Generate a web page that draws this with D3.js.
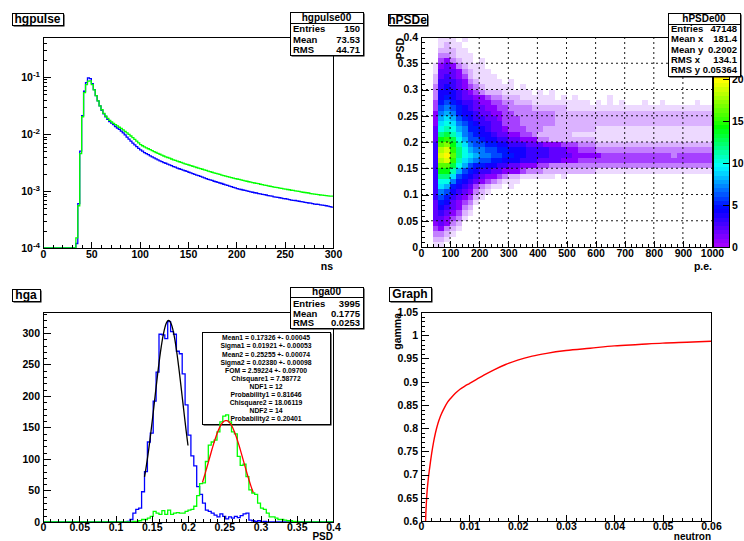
<!DOCTYPE html>
<html><head><meta charset="utf-8">
<script src="https://cdn.jsdelivr.net/npm/d3@7"></script>
<style>
body{margin:0;background:#fff;}
svg{display:block;}
</style></head><body>
<script>
// ---------------- data ----------------
// hgpulse: 150 bins of 2 ns, 0-300 ns
const pulseBinWidth = 2;
const pulseBlue = [0,0,0,0,0,0,0,0,0,0,0,0,0,0,0,0,0,
 1.2e-4,6.0e-4,5.0e-3,2.1e-2,5.6e-2,7.9e-2,9.6e-2,9.3e-2,7.6e-2,6.0e-2,4.7e-2,3.8e-2,3.1e-2,
 2.6e-2,2.25e-2,2.0e-2,1.8e-2,1.65e-2,1.54e-2,1.45e-2,1.35e-2,1.27e-2,1.2e-2,
 1.12e-2,1.04e-2,9.6e-3,8.8e-3,8.1e-3,7.5e-3,6.9e-3,6.4e-3,6.0e-3,5.6e-3,
 5.25e-3,5.0e-3,4.7e-3,4.5e-3,4.32e-3,4.12e-3,3.96e-3,3.8e-3,3.64e-3,3.5e-3,
 3.38e-3,3.26e-3,3.14e-3,3.06e-3,2.95e-3,2.86e-3,2.77e-3,2.67e-3,2.61e-3,2.52e-3,
 2.45e-3,2.39e-3,2.31e-3,2.26e-3,2.2e-3,2.13e-3,2.08e-3,2.01e-3,1.96e-3,1.9e-3,
 1.85e-3,1.8e-3,1.75e-3,1.69e-3,1.65e-3,1.6e-3,1.56e-3,1.53e-3,1.48e-3,1.45e-3,
 1.41e-3,1.38e-3,1.35e-3,1.31e-3,1.28e-3,1.25e-3,1.22e-3,1.19e-3,1.16e-3,1.13e-3,
 1.1e-3,1.08e-3,1.06e-3,1.04e-3,1.02e-3,1.0e-3,9.8e-4,9.6e-4,9.5e-4,9.3e-4,
 9.2e-4,9.0e-4,8.9e-4,8.7e-4,8.6e-4,8.5e-4,8.3e-4,8.2e-4,8.1e-4,7.9e-4,
 7.8e-4,7.7e-4,7.6e-4,7.5e-4,7.35e-4,7.3e-4,7.2e-4,7.05e-4,6.9e-4,6.85e-4,
 6.8e-4,6.7e-4,6.6e-4,6.5e-4,6.45e-4,6.3e-4,6.25e-4,6.15e-4,6.1e-4,6.0e-4,
 5.9e-4,5.85e-4,5.8e-4,5.7e-4,5.65e-4,5.6e-4,5.5e-4,5.4e-4,5.3e-4,5.2e-4];
const pulseGreen = [0,0,0,0,0,0,0,0,0,0,0,0,0,0,0,0,0,
 1.5e-4,5.5e-4,4.5e-3,2.0e-2,5.3e-2,7.3e-2,8.4e-2,8.5e-2,7.3e-2,5.9e-2,4.7e-2,3.8e-2,3.1e-2,
 2.65e-2,2.3e-2,2.06e-2,1.87e-2,1.73e-2,1.62e-2,1.53e-2,1.45e-2,1.38e-2,1.31e-2,
 1.25e-2,1.18e-2,1.11e-2,1.04e-2,9.8e-3,9.2e-3,8.6e-3,8.0e-3,7.45e-3,6.95e-3,
 6.5e-3,6.2e-3,5.95e-3,5.7e-3,5.5e-3,5.3e-3,5.1e-3,4.9e-3,4.72e-3,4.55e-3,
 4.4e-3,4.25e-3,4.1e-3,3.97e-3,3.86e-3,3.75e-3,3.63e-3,3.52e-3,3.43e-3,3.33e-3,
 3.25e-3,3.16e-3,3.08e-3,2.99e-3,2.92e-3,2.85e-3,2.78e-3,2.71e-3,2.65e-3,2.58e-3,
 2.52e-3,2.46e-3,2.4e-3,2.34e-3,2.29e-3,2.23e-3,2.18e-3,2.13e-3,2.08e-3,2.03e-3,
 1.99e-3,1.95e-3,1.9e-3,1.86e-3,1.82e-3,1.78e-3,1.75e-3,1.71e-3,1.68e-3,1.65e-3,
 1.62e-3,1.59e-3,1.56e-3,1.53e-3,1.5e-3,1.48e-3,1.45e-3,1.43e-3,1.4e-3,1.38e-3,
 1.36e-3,1.34e-3,1.31e-3,1.29e-3,1.27e-3,1.25e-3,1.23e-3,1.21e-3,1.19e-3,1.17e-3,
 1.16e-3,1.14e-3,1.12e-3,1.11e-3,1.09e-3,1.08e-3,1.06e-3,1.05e-3,1.03e-3,1.02e-3,
 1.0e-3,9.9e-4,9.8e-4,9.6e-4,9.5e-4,9.4e-4,9.3e-4,9.2e-4,9.0e-4,8.9e-4,
 8.8e-4,8.7e-4,8.6e-4,8.5e-4,8.45e-4,8.4e-4,8.3e-4,8.2e-4,8.15e-4,8.1e-4];

// hPSDe: mean bin content on a 20 p.e. x 0.01 grid, top row (0.39-0.40) first
const psdeXStep = 20, psdeYStep = 0.01, psdeZMax = 25;
const psdeCodes = {".":0,"a":0.15,"b":0.3,"c":0.5,"d":0.75};
const psdeRows = [
 ["...aaa.a..","..........","..........","..........",".........."],
 ["...abaa...","..........","..........","..........",".........."],
 ["...bbbaa..","..........","..........","..........",".........."],
 ["...ccbaaa.","..........","..........","..........",".........."],
 ["...d1cbaa.","a.........","..........","..........",".........."],
 ["..a121cbaa","a.........","..........","..........",".........."],
 ["..a2221cba","aa........","..........","..........",".........."],
 ["..b2321dba","aaa.......","..........","..........",".........."],
 ["..b33321cb","aaaa.a....","..........","..........",".........."],
 ["..c34321dc","baaaaa.a..","..........","..........",".........."],
 ["..c444321d","cbbbaaaaa.","a.a.......","..........",".........."],
 ["..c4543221","1dccbbbaaa","aaa.a.a...","..a.......",".........."],
 ["..d5654332","11ddccbbba","aaaaaaaaa.","a.a.a...a.",".a.....a.."],
 ["..d6765432","211ddccccb","bbbbbaaaaa","aaaaaaaaaa","aaaaaaaaaa"],
 ["..17875443","2211ddcccc","cccbbbbbbb","bbbbbbbbbb","bbbbbbbbbb"],
 ["..18986543","3221dddccc","cccbbbbbbb","bbbbbbbbbb","bbbbbbbbbb"],
 ["..19A97654","3322dddccc","cccbbbbbbb","bbbbbbbbbb","bbbbbbbbbb"],
 ["..2ABA8755","43221dddcc","cbbbbbbbbb","aaaaaaaaaa","aaaaaaaaaa"],
 ["..2CDB9765","4432211ddc","bbbbbbaaaa","aaaaaaaaaa","aaaaaaaaaa"],
 ["..2EFDA866","5443322111","ccbbbbbbbb","aaaaaaaaaa","aaaaaaaaaa"],
 ["..3GHEB976","6554433322","2111dddccc","bbbbbbbbbb","bbbbbbbbbb"],
 ["..3IJFCA87","7665544433","3322211ddd","cccccccccc","cccccccccc"],
 ["..3JKGCA98","7766554433","3322221111","1ddddddddd","dddcdddddd"],
 ["..3IJFB987","6655444333","2222111ddd","dddddddddd","dddddddddd"],
 ["..3GGDA865","5443322111","ddcccccccc","cccccccccc","cccccccccc"],
 ["..3EEB8654","3322111dcc","cbbbbbbbbb","aaaaaaaaaa","aaaaaaaaaa"],
 ["..3CC96543","211dcbbaaa","aaa.a.....","..........",".........."],
 ["..3AA75432","1dcbaaa...","..........","..........",".........."],
 ["..3985432d","cbaa.a....","..........","..........",".........."],
 ["..3764321c","ba........","..........","..........",".........."],
 ["..365321db","a.........","..........","..........",".........."],
 ["..25421dca","..........","..........","..........",".........."],
 ["..24321cb.","..........","..........","..........",".........."],
 ["..2321dba.","..........","..........","..........",".........."],
 ["..221dca..","..........","..........","..........",".........."],
 ["..121cb...","..........","..........","..........",".........."],
 ["..d1cba...","..........","..........","..........",".........."],
 ["..ccba....","..........","..........","..........",".........."],
 ["..bba.....","..........","..........","..........",".........."],
 ["..aa......","..........","..........","..........",".........."]
];

// hga: 100 bins of 0.004, 0-0.4
const hgaBinWidth = 0.004;
const hgaBlue = [0,0,0,0,0,0,0,0,0,0,0,0,0,0,0,0,0,0,0,0,0,0,0,0,0,0,0,0,0,
 1,4,14,20,22,48,80,127,141,192,238,298,297,291,318,302,298,271,267,235,186,
 138,105,89,56,44,30,19,17,14,11,8,13,9,5,8,6,9,7,10,13,14,3,2,1,2,0,1,
 0,0,0,0,0,0,0,0,0,0,0,0,0,0,0,0,0,0,0,0,0,0,0];
const hgaGreen = [0,0,0,0,0,0,0,0,0,0,0,0,0,0,0,0,0,0,0,0,0,0,0,0,0,0,0,0,0,0,0,
 1,1,2,4,4,6,9,17,14,12,18,12,19,12,14,15,14,14,17,19,20,25,42,61,62,96,122,127,130,
 143,159,168,170,159,143,140,104,90,92,72,51,46,44,30,22,20,14,8,8,6,4,4,3,2,2,1,1,
 0,0,0,0,0,0,0,0,0,0,0,0];
// gaussian fits (mean, sigma from the fit results; amplitude and range of each fit)
const fitGamma   = {mean:0.17326, sigma:0.01921, amp:320, lo:0.14, hi:0.20};
const fitNeutron = {mean:0.25255, sigma:0.02380, amp:161, lo:0.22, hi:0.29};
const fitLines = ["Mean1 = 0.17326 +- 0.00045","Sigma1 = 0.01921 +- 0.00053",
 "Mean2 = 0.25255 +- 0.00074","Sigma2 = 0.02380 +- 0.00098","FOM = 2.59224 +- 0.09700",
 "Chisquare1 = 7.58772","NDF1 = 12","Probability1 = 0.81646","Chisquare2 = 18.06119",
 "NDF2 = 14","Probability2 = 0.20401"];

// Graph: gamma efficiency vs neutron fraction
const graphNeutron = [0.0009,0.0010,0.0012,0.0015,0.0018,0.0022,0.0026,0.0030,0.0035,0.0040,0.0047,
 0.0055,0.0063,0.0071,0.0080,0.0090,0.0100,0.0115,0.0130,0.0150,0.0175,0.0200,0.0230,0.0260,
 0.0300,0.0350,0.0400,0.0450,0.0500,0.0550,0.0600];
const graphGamma = [0.585,0.615,0.655,0.690,0.715,0.745,0.770,0.790,0.810,0.825,0.841,
 0.856,0.866,0.875,0.883,0.890,0.896,0.905,0.914,0.925,0.937,0.9465,0.955,0.961,
 0.967,0.972,0.977,0.980,0.983,0.985,0.987];

// ---------------- drawing ----------------
const W = 744, H = 541;
const FONT = '"Liberation Sans", Arial, Helvetica, sans-serif';
const TICKFS = 10.5;
const svg = d3.select("body").append("svg").attr("width", W).attr("height", H)
  .attr("font-family", FONT).attr("font-weight", "bold");
svg.append("rect").attr("width", W).attr("height", H).attr("fill", "#fff");

function clean(sel) {
  sel.select(".domain").remove();
  sel.attr("font-family", FONT).attr("font-size", TICKFS).attr("font-weight", "bold");
  sel.selectAll("line").attr("stroke", "#000").attr("shape-rendering", "crispEdges");
  sel.selectAll("text").attr("fill", "#000");
}

function frameAxes(x, y, o) {
  const [xl, xr] = x.range(), [yb, yt] = y.range();
  const pad = o.xPad == null ? 3 : o.xPad;
  const g = svg.append("g");
  g.append("g").attr("transform", `translate(0,${yb})`)
    .call(d3.axisBottom(x).tickValues(o.xMinor).tickSize(-3).tickFormat("")).call(clean);
  g.append("g").attr("transform", `translate(0,${yb})`)
    .call(d3.axisBottom(x).tickValues(o.xMajor).tickSize(-6).tickPadding(pad).tickFormat(o.xFmt)).call(clean);
  g.append("g").attr("transform", `translate(${xl},0)`)
    .call(d3.axisLeft(y).tickValues(o.yMinor).tickSize(-4).tickFormat("")).call(clean);
  const ya = g.append("g").attr("transform", `translate(${xl},0)`)
    .call(d3.axisLeft(y).tickValues(o.yMajor).tickSize(-8).tickPadding(3).tickFormat(o.yFmt)).call(clean);
  g.append("rect").attr("x", xl).attr("y", yt).attr("width", xr - xl).attr("height", yb - yt)
    .attr("fill", "none").attr("stroke", "#000").attr("shape-rendering", "crispEdges");
  return ya;
}

function titleBox(x, y, w, h, label) {
  const g = svg.append("g");
  g.append("rect").attr("x", x + 1.5).attr("y", y + 1.5).attr("width", w).attr("height", h).attr("fill", "#000");
  g.append("rect").attr("x", x).attr("y", y).attr("width", w).attr("height", h)
    .attr("fill", "#fff").attr("stroke", "#000").attr("shape-rendering", "crispEdges");
  g.append("text").attr("x", x + w / 2).attr("y", y + h / 2 + 4.3).attr("text-anchor", "middle")
    .attr("font-size", 12).text(label);
}

function statsBox(b) {
  const g = svg.append("g");
  g.append("rect").attr("x", b.x + 1.5).attr("y", b.y + 1.5).attr("width", b.w).attr("height", b.h).attr("fill", "#000");
  g.append("rect").attr("x", b.x).attr("y", b.y).attr("width", b.w).attr("height", b.h)
    .attr("fill", "#fff").attr("stroke", "#000").attr("shape-rendering", "crispEdges");
  g.append("line").attr("x1", b.x).attr("x2", b.x + b.w).attr("y1", b.div).attr("y2", b.div)
    .attr("stroke", "#000").attr("shape-rendering", "crispEdges");
  g.append("text").attr("x", b.x + b.w / 2).attr("y", b.titleY).attr("text-anchor", "middle")
    .attr("font-size", 10).text(b.title);
  b.rows.forEach(r => {
    g.append("text").attr("x", b.x + 3).attr("y", r[2]).attr("font-size", 9.5).text(r[0]);
    g.append("text").attr("x", b.x + b.w - 3).attr("y", r[2]).attr("text-anchor", "end")
      .attr("font-size", 9.5).text(r[1]);
  });
}

function stepPath(x, y, lo, w, vals, floor) {
  const pts = vals.map((v, i) => [lo + i * w, v]);
  pts.push([lo + vals.length * w, vals[vals.length - 1]]);
  return d3.line().x(d => x(d[0])).y(d => y(Math.max(d[1], floor))).curve(d3.curveStepAfter)(pts);
}

function axisTitle(x, y, label, rotate, fs) {
  const t = svg.append("text").attr("font-size", fs || 10.5).attr("text-anchor", "end").text(label);
  if (rotate) t.attr("transform", `translate(${x},${y}) rotate(-90)`);
  else t.attr("x", x).attr("y", y);
}

const fmt = d3.format("~g");
const rangeTicks = (a, b, s) => d3.range(Math.round((b - a) / s) + 1).map(i => +(a + i * s).toFixed(6));

// ---- pad 1: hgpulse ----
{
  const x = d3.scaleLinear().domain([0, 300]).range([43, 333]);
  const y = d3.scaleLog().domain([1e-4, 0.5]).range([248, 37]);
  const floor = 1e-4;
  svg.append("path").attr("d", stepPath(x, y, 0, pulseBinWidth, pulseBlue, floor))
    .attr("fill", "none").attr("stroke", "#0000ff").attr("stroke-width", 1.3);
  svg.append("path").attr("d", stepPath(x, y, 0, pulseBinWidth, pulseGreen, floor))
    .attr("fill", "none").attr("stroke", "#00ff00").attr("stroke-width", 1.3);
  const yMinor = [];
  [-4, -3, -2, -1].forEach(k => { for (let m = 2; m <= 9; m++) { const v = m * Math.pow(10, k); if (v <= 0.5) yMinor.push(v); } });
  const ya = frameAxes(x, y, {
    xMajor: rangeTicks(0, 300, 50), xMinor: rangeTicks(0, 300, 10), xFmt: fmt,
    yMajor: [1e-4, 1e-3, 1e-2, 1e-1], yMinor: yMinor, yFmt: () => ""
  });
  ya.selectAll(".tick text").each(function (d) {
    const t = d3.select(this);
    t.text(null);
    t.append("tspan").text("10");
    t.append("tspan").attr("dy", "-0.45em").attr("font-size", 8).text(Math.round(Math.log10(d)));
  });
  axisTitle(333, 270, "ns");
  statsBox({x: 290, y: 12, w: 73, h: 43, title: "hgpulse00", titleY: 20.5, div: 23,
    rows: [["Entries", "150", 32], ["Mean", "73.53", 42.5], ["RMS", "44.71", 52.5]]});
  titleBox(12, 13, 51, 12, "hgpulse");
}

// ---- pad 2: hPSDe ----
{
  const x = d3.scaleLinear().domain([0, 1000]).range([421, 712]);
  const y = d3.scaleLinear().domain([0, 0.4]).range([247, 37]);
  const hue = d3.scaleLinear().domain([0, 1, 5, 10, 15, 20, 25]).range([280, 272, 235, 175, 110, 58, 0]).clamp(true);
  const zcol = z => d3.hsl(hue(z), 1, 0.5).formatHex();
  const cells = [];
  const nRows = psdeRows.length;
  psdeRows.forEach((parts, ri) => {
    const row = parts.join("");
    for (let c = 0; c < row.length; c++) {
      const ch = row[c];
      let v;
      if (ch in psdeCodes) v = psdeCodes[ch];
      else if (ch >= "1" && ch <= "9") v = +ch;
      else v = 10 + ch.charCodeAt(0) - 65;
      if (v > 0) cells.push({x0: c * psdeXStep, y0: (nRows - 1 - ri) * psdeYStep, v});
    }
  });
  svg.append("g").selectAll("rect").data(cells).join("rect")
    .attr("x", d => x(d.x0)).attr("y", d => y(d.y0 + psdeYStep))
    .attr("width", d => x(d.x0 + psdeXStep) - x(d.x0))
    .attr("height", d => y(d.y0) - y(d.y0 + psdeYStep))
    .attr("fill", d => zcol(Math.max(d.v, 1)))
    .attr("fill-opacity", d => d.v < 1 ? d.v : 1)
    .attr("shape-rendering", "crispEdges");
  // grid
  const grid = svg.append("g").attr("stroke", "#000").attr("stroke-dasharray", "2,3").attr("stroke-width", 0.9);
  rangeTicks(100, 900, 100).forEach(v => grid.append("line").attr("x1", x(v)).attr("x2", x(v)).attr("y1", 37).attr("y2", 247));
  rangeTicks(0.05, 0.35, 0.05).forEach(v => grid.append("line").attr("x1", 421).attr("x2", 712).attr("y1", y(v)).attr("y2", y(v)));
  frameAxes(x, y, {
    xMajor: rangeTicks(0, 1000, 100), xMinor: rangeTicks(0, 1000, 20), xFmt: fmt,
    yMajor: rangeTicks(0, 0.4, 0.05), yMinor: rangeTicks(0, 0.4, 0.01), yFmt: fmt
  });
  axisTitle(712, 270, "p.e.");
  axisTitle(403.5, 38, "PSD", true);
  // palette
  const z = d3.scaleLinear().domain([0, psdeZMax]).range([247, 37]);
  const nCol = 50, pal = svg.append("g");
  d3.range(nCol).forEach(i => {
    const z0 = i * psdeZMax / nCol, z1 = (i + 1) * psdeZMax / nCol;
    pal.append("rect").attr("x", 713).attr("y", z(z1)).attr("width", 16).attr("height", z(z0) - z(z1))
      .attr("fill", zcol((z0 + z1) / 2)).attr("shape-rendering", "crispEdges");
  });
  pal.append("rect").attr("x", 713).attr("y", 37).attr("width", 16).attr("height", 210)
    .attr("fill", "none").attr("stroke", "#000").attr("shape-rendering", "crispEdges");
  svg.append("g").attr("transform", "translate(729,0)")
    .call(d3.axisRight(z).tickValues([0, 5, 10, 15, 20]).tickSize(-6).tickPadding(3).tickFormat(fmt)).call(clean);
  statsBox({x: 668, y: 13, w: 72, h: 63, title: "hPSDe00", titleY: 21.5, div: 24,
    rows: [["Entries", "47148", 32], ["Mean x", "181.4", 42], ["Mean y", "0.2002", 52.5],
           ["RMS x", "134.1", 63], ["RMS y", "0.05364", 73]]});
  titleBox(388, 14, 39, 11, "hPSDe");
}

// ---- pad 3: hga ----
{
  const x = d3.scaleLinear().domain([0, 0.4]).range([43, 333]);
  const y = d3.scaleLinear().domain([0, 333.3]).range([522, 312]);
  // fit result box
  const bx = 202, by = 332, bw = 128, bh = 92;
  svg.append("rect").attr("x", bx + 1.5).attr("y", by + 1.5).attr("width", bw).attr("height", bh).attr("fill", "#000");
  svg.append("rect").attr("x", bx).attr("y", by).attr("width", bw).attr("height", bh)
    .attr("fill", "#fff").attr("stroke", "#000").attr("shape-rendering", "crispEdges");
  fitLines.forEach((s, i) => svg.append("text").attr("x", bx + bw / 2).attr("y", 340.3 + i * 8.1)
    .attr("text-anchor", "middle").attr("font-size", 6.8).text(s));
  svg.append("path").attr("d", stepPath(x, y, 0, hgaBinWidth, hgaBlue, 0))
    .attr("fill", "none").attr("stroke", "#0000ff").attr("stroke-width", 1.3);
  svg.append("path").attr("d", stepPath(x, y, 0, hgaBinWidth, hgaGreen, 0))
    .attr("fill", "none").attr("stroke", "#00ff00").attr("stroke-width", 1.3);
  const gauss = (f, color) => {
    const pts = d3.range(0, 61).map(i => f.lo + (f.hi - f.lo) * i / 60)
      .map(t => [t, f.amp * Math.exp(-0.5 * ((t - f.mean) / f.sigma) ** 2)]);
    svg.append("path").attr("d", d3.line().x(d => x(d[0])).y(d => y(d[1]))(pts))
      .attr("fill", "none").attr("stroke", color).attr("stroke-width", 1.3);
  };
  gauss(fitGamma, "#000");
  gauss(fitNeutron, "#ff0000");
  frameAxes(x, y, {
    xMajor: rangeTicks(0, 0.4, 0.05), xMinor: rangeTicks(0, 0.4, 0.01), xFmt: fmt, xPad: 1.5,
    yMajor: rangeTicks(0, 300, 50), yMinor: rangeTicks(0, 330, 10), yFmt: fmt
  });
  axisTitle(333, 540.4, "PSD", false, 10);
  statsBox({x: 290, y: 287, w: 73, h: 41, title: "hga00", titleY: 295, div: 297.5,
    rows: [["Entries", "3995", 306.5], ["Mean", "0.1775", 316.5], ["RMS", "0.0253", 326]]});
  titleBox(12, 289, 28, 12, "hga");
}

// ---- pad 4: Graph ----
{
  const x = d3.scaleLinear().domain([0, 0.06]).range([421, 711]);
  const y = d3.scaleLinear().domain([0.6, 1.05]).range([521, 312]);
  svg.append("clipPath").attr("id", "clip4").append("rect")
    .attr("x", 421).attr("y", 312).attr("width", 290).attr("height", 209);
  const pts = graphNeutron.map((n, i) => [n, graphGamma[i]]);
  svg.append("path").attr("clip-path", "url(#clip4)")
    .attr("d", d3.line().x(d => x(d[0])).y(d => y(d[1])).curve(d3.curveMonotoneX)(pts))
    .attr("fill", "none").attr("stroke", "#ff0000").attr("stroke-width", 1.4);
  frameAxes(x, y, {
    xMajor: rangeTicks(0, 0.06, 0.01), xMinor: rangeTicks(0, 0.06, 0.002), xFmt: fmt, xPad: 1.5,
    yMajor: rangeTicks(0.6, 1.05, 0.05), yMinor: rangeTicks(0.6, 1.05, 0.01), yFmt: fmt
  });
  axisTitle(711, 540.4, "neutron", false, 10);
  axisTitle(400.5, 313, "gamma", true);
  titleBox(389, 287, 42, 14, "Graph");
}
</script>
</body></html>
